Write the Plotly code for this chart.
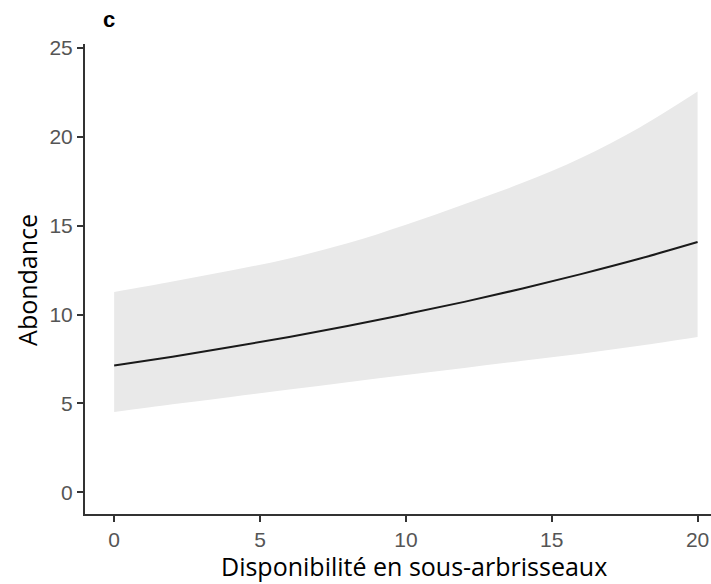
import plotly.graph_objects as go

# Data
x_vals = [0, 2, 4, 6, 8, 10, 12, 14, 16, 18, 20]
fit = [7.13, 7.63, 8.17, 8.74, 9.35, 10.02, 10.71, 11.46, 12.27, 13.13, 14.07]
upper = [11.26, 11.85, 12.47, 13.15, 14.0, 15.05, 16.2, 17.4, 18.8, 20.5, 22.53]
lower = [4.52, 4.95, 5.37, 5.79, 6.2, 6.6, 7.0, 7.4, 7.8, 8.25, 8.74]
x_ticks = [0, 5, 10, 15, 20]
y_ticks = [0, 5, 10, 15, 20, 25]

fig = go.Figure()
fig.add_trace(go.Scatter(x=x_vals, y=lower, mode="lines",
                         line=dict(width=0, color="rgba(0,0,0,0)", shape="spline"),
                         hoverinfo="skip", showlegend=False))
fig.add_trace(go.Scatter(x=x_vals, y=upper, mode="lines", fill="tonexty",
                         fillcolor="rgb(233,233,233)",
                         line=dict(width=0, color="rgba(0,0,0,0)", shape="spline"),
                         hoverinfo="skip", showlegend=False))
fig.add_trace(go.Scatter(x=x_vals, y=fit, mode="lines",
                         line=dict(color="#1a1a1a", width=2, shape="spline"),
                         showlegend=False))

axis_common = dict(showline=True, linecolor="#333333", linewidth=2,
                   ticks="outside", ticklen=6, tickwidth=2, tickcolor="#333333",
                   showgrid=False, zeroline=False,
                   tickfont=dict(family="Liberation Sans, Arial", size=21, color="#555555"))

fig.update_layout(
    width=711, height=584,
    margin=dict(l=85, r=0, t=44, b=70),
    plot_bgcolor="white", paper_bgcolor="white",
    xaxis=dict(range=[-1.0, 20.46], tickvals=x_ticks, **axis_common),
    yaxis=dict(range=[-1.21, 25.2], tickvals=y_ticks, **axis_common),
    annotations=[
        dict(text="Disponibilité en sous-arbrisseaux", xref="paper", yref="paper",
             x=0.5256, y=-0.111, xanchor="center", yanchor="middle", showarrow=False,
             font=dict(family="Open Sans", size=25, color="black")),
        dict(text="Abondance", xref="paper", yref="paper", textangle=-90,
             x=-0.0927, y=0.498, xanchor="center", yanchor="middle", showarrow=False,
             font=dict(family="Open Sans", size=25, color="black")),
        dict(text="<b>c</b>", xref="paper", yref="paper",
             x=0.025, y=1.052, xanchor="left", yanchor="middle", showarrow=False,
             font=dict(family="Liberation Sans, Arial", size=22, color="black")),
    ],
)

fig.write_html("out.html")
